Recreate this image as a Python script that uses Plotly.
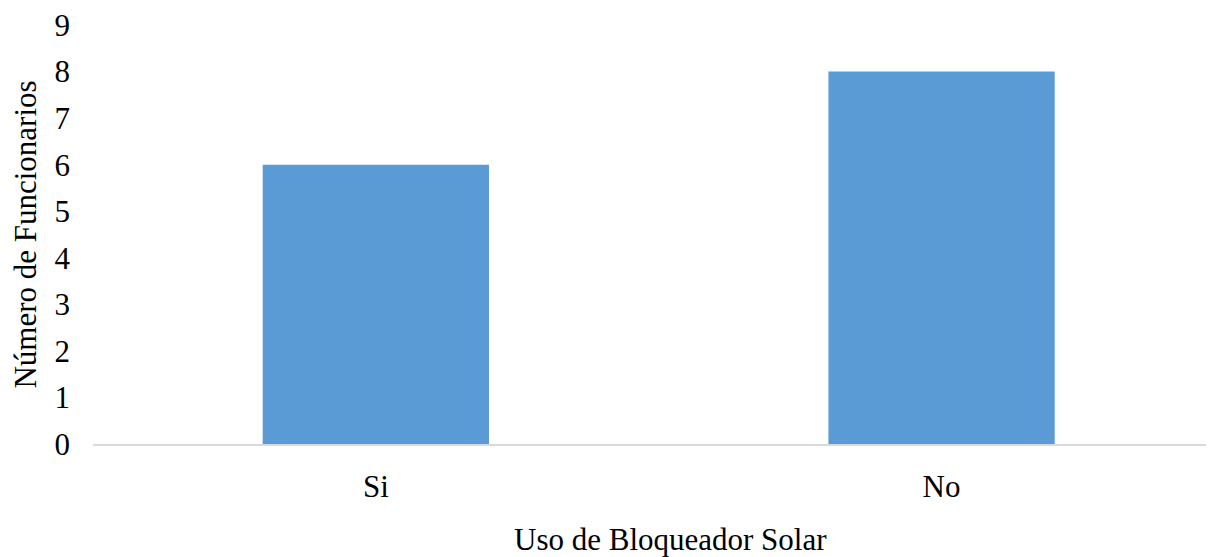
import plotly.graph_objects as go

categories = ["Si", "No"]
values = [6, 8]
y_ticks = [0, 1, 2, 3, 4, 5, 6, 7, 8, 9]
x_title = "Uso de Bloqueador Solar"
y_title = "Número de Funcionarios"

FONT = "Liberation Serif, Times New Roman, serif"
FS = 31

fig = go.Figure(
    go.Bar(
        x=categories,
        y=values,
        width=0.4,
        marker=dict(color="#5B9BD5", line=dict(width=0)),
    )
)

fig.update_layout(
    width=1206,
    height=549,
    margin=dict(l=85, r=0, t=17, b=113),
    paper_bgcolor="white",
    plot_bgcolor="white",
    font=dict(family=FONT, size=FS, color="black"),
    showlegend=False,
)

fig.add_annotation(
    text=x_title,
    xref="paper", yref="paper",
    x=0.5156, y=-0.227,
    xanchor="center", yanchor="middle",
    showarrow=False,
    font=dict(family=FONT, size=FS, color="black"),
)

fig.update_xaxes(
    range=[-0.5, 1.4816],
    showgrid=False,
    showline=True,
    linecolor="#d9d9d9",
    linewidth=2,
    ticks="",
    ticklabelstandoff=14,
    tickfont=dict(family=FONT, size=FS),
)

fig.update_yaxes(
    range=[0, 9],
    tickvals=y_ticks,
    showgrid=False,
    zeroline=False,
    showline=False,
    ticks="",
    ticklabelstandoff=22,
    ticklabeloverflow="allow",
    title=dict(text=y_title, standoff=12,
               font=dict(family=FONT, size=FS)),
    tickfont=dict(family=FONT, size=FS),
)

fig.write_html("out.html")
